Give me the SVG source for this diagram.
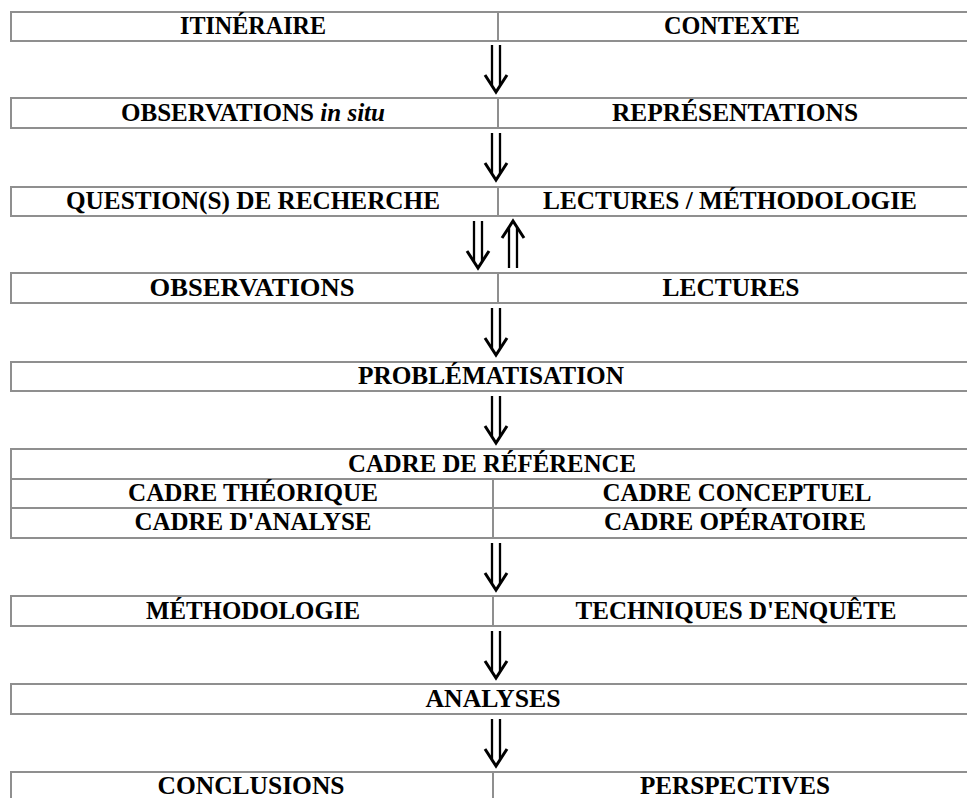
<svg xmlns="http://www.w3.org/2000/svg" width="967" height="798" viewBox="0 0 967 798">
<style>
.box{fill:#fff;stroke:#8f8f8f;stroke-width:2}
.ln{stroke:#8f8f8f;stroke-width:2;fill:none}
text{font-family:"Liberation Serif","Times New Roman",serif;font-weight:bold;font-size:25px;fill:#000;text-anchor:middle}
.it{font-style:italic}
.sh{stroke:#000;stroke-width:2.3;fill:none}
.hd{stroke:#000;stroke-width:3;fill:none;stroke-linejoin:miter}
</style>
<defs>
<g id="down">
<line class="sh" x1="-4" y1="0" x2="-4" y2="40"/>
<line class="sh" x1="4" y1="0" x2="4" y2="40"/>
<polyline class="hd" points="-11,30 0,47 11,30"/>
</g>
<g id="up">
<line class="sh" x1="-4" y1="7" x2="-4" y2="47"/>
<line class="sh" x1="4" y1="7" x2="4" y2="47"/>
<polyline class="hd" points="-11,17 0,0 11,17"/>
</g>
</defs>
<rect width="967" height="798" fill="#fff"/>

<g id="connectors">
<use href="#down" x="496" y="45"/>
<use href="#down" x="496" y="133"/>
<use href="#down" x="478" y="221"/>
<use href="#up" x="513" y="221"/>
<use href="#down" x="496" y="308"/>
<use href="#down" x="496" y="396"/>
<use href="#down" x="496" y="543"/>
<use href="#down" x="496" y="631"/>
<use href="#down" x="496" y="719"/>
</g>

<g id="n1">
<rect class="box" x="11" y="12" width="970" height="29"/>
<line class="ln" x1="498" y1="12" x2="498" y2="41"/>
<text x="253" y="34" textLength="146" lengthAdjust="spacingAndGlyphs">ITINÉRAIRE</text>
<text x="732" y="34" textLength="136" lengthAdjust="spacingAndGlyphs">CONTEXTE</text>
</g>

<g id="n2">
<rect class="box" x="11" y="98" width="970" height="30"/>
<line class="ln" x1="498" y1="98" x2="498" y2="128"/>
<text x="253" y="121" textLength="264" lengthAdjust="spacingAndGlyphs">OBSERVATIONS <tspan class="it">in situ</tspan></text>
<text x="735" y="121" textLength="246" lengthAdjust="spacingAndGlyphs">REPRÉSENTATIONS</text>
</g>

<g id="n3">
<rect class="box" x="11" y="187" width="970" height="29"/>
<line class="ln" x1="498" y1="187" x2="498" y2="216"/>
<text x="253" y="209" textLength="374" lengthAdjust="spacingAndGlyphs">QUESTION(S) DE RECHERCHE</text>
<text x="730" y="209" textLength="374" lengthAdjust="spacingAndGlyphs">LECTURES / MÉTHODOLOGIE</text>
</g>

<g id="n4">
<rect class="box" x="11" y="273" width="970" height="30"/>
<line class="ln" x1="498" y1="273" x2="498" y2="303"/>
<text x="252" y="296" textLength="205" lengthAdjust="spacingAndGlyphs">OBSERVATIONS</text>
<text x="731" y="296" textLength="137" lengthAdjust="spacingAndGlyphs">LECTURES</text>
</g>

<g id="n5">
<rect class="box" x="11" y="362" width="970" height="29"/>
<text x="491" y="384" textLength="266" lengthAdjust="spacingAndGlyphs">PROBLÉMATISATION</text>
</g>

<g id="n6">
<rect class="box" x="11" y="449" width="970" height="89"/>
<line class="ln" x1="11" y1="479" x2="981" y2="479"/>
<line class="ln" x1="11" y1="508" x2="981" y2="508"/>
<line class="ln" x1="493" y1="479" x2="493" y2="538"/>
<text x="492" y="472" textLength="288" lengthAdjust="spacingAndGlyphs">CADRE DE RÉFÉRENCE</text>
<text x="253" y="501" textLength="250" lengthAdjust="spacingAndGlyphs">CADRE THÉORIQUE</text>
<text x="737" y="501" textLength="269" lengthAdjust="spacingAndGlyphs">CADRE CONCEPTUEL</text>
<text x="253" y="530" textLength="237" lengthAdjust="spacingAndGlyphs">CADRE D'ANALYSE</text>
<text x="735" y="530" textLength="262" lengthAdjust="spacingAndGlyphs">CADRE OPÉRATOIRE</text>
</g>

<g id="n7">
<rect class="box" x="11" y="596" width="970" height="30"/>
<line class="ln" x1="493" y1="596" x2="493" y2="626"/>
<text x="253" y="619" textLength="214" lengthAdjust="spacingAndGlyphs">MÉTHODOLOGIE</text>
<text x="736" y="619" textLength="321" lengthAdjust="spacingAndGlyphs">TECHNIQUES D'ENQUÊTE</text>
</g>

<g id="n8">
<rect class="box" x="11" y="684" width="970" height="30"/>
<text x="493" y="707" textLength="135" lengthAdjust="spacingAndGlyphs">ANALYSES</text>
</g>

<g id="n9">
<rect class="box" x="11" y="772" width="970" height="40"/>
<line class="ln" x1="493" y1="772" x2="493" y2="812"/>
<text x="251" y="794" textLength="187" lengthAdjust="spacingAndGlyphs">CONCLUSIONS</text>
<text x="735" y="794" textLength="190" lengthAdjust="spacingAndGlyphs">PERSPECTIVES</text>
</g>
</svg>
